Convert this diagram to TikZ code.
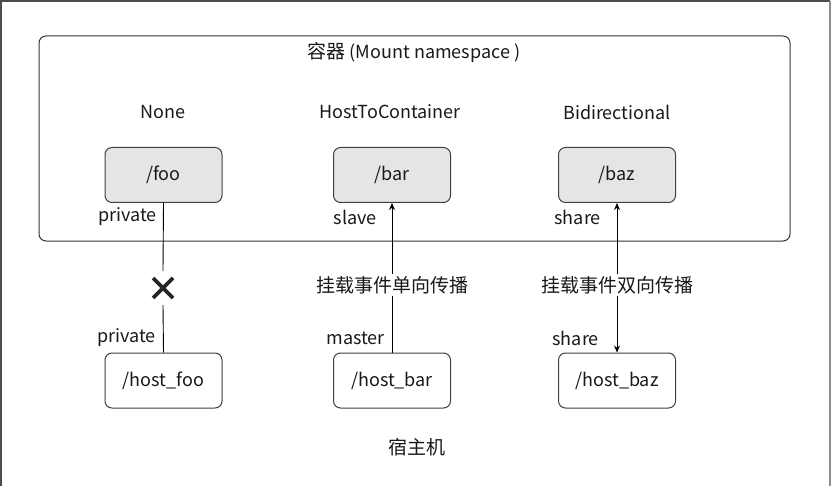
\documentclass[tikz,border=0pt]{standalone}
\usepackage{fontspec}
\setmainfont{Noto Sans CJK SC}
\usetikzlibrary{arrows.meta}
\newcommand{\zh}[1]{{\fontsize{19}{22}\selectfont #1}}
\begin{document}
\begin{tikzpicture}[x=1pt,y=-1pt,
  every node/.style={font=\fontsize{18}{21}\selectfont, inner sep=0pt, text=black!90},
  frameline/.style={line width=1.2pt},
  container/.style={draw=black!80, line width=1pt, rounded corners=7pt},
  cbox/.style={draw=black!75, line width=1pt, fill=black!10, rounded corners=7pt, minimum width=117pt, minimum height=55pt},
  hbox/.style={draw=black!75, line width=1pt, fill=white, rounded corners=7pt, minimum width=117pt, minimum height=55pt},
  conn/.style={line width=0.9pt},
  tip/.style={-{Stealth[length=7pt,width=6pt]}},
  lbl/.style={anchor=east},
  mid/.style={fill=white, inner sep=2pt}
]
\useasboundingbox (0,0) rectangle (834,486);
\fill[white] (0,0) rectangle (834,486);
\draw[frameline, draw=black!70] (1,486) -- (1,1) -- (830,1);
\draw[frameline, draw=black!45] (830,1) -- (830,486);
% container
\draw[container] (39,36) rectangle (790,241);
\node (title) at (414,53) {\zh{容器} (Mount namespace )};
\node (none) at (163,112) {None};
\node (h2c) at (390,112) {HostToContainer};
\node (bidi) at (617,112) {Bidirectional};
% mount points
\node[cbox] (foo) at (163.5,175) {/foo};
\node[cbox] (bar) at (392,175) {/bar};
\node[cbox] (baz) at (617,175) {/baz};
\node[hbox] (hfoo) at (163.5,380.5) {/host\_foo};
\node[hbox] (hbar) at (392,380.5) {/host\_bar};
\node[hbox] (hbaz) at (617,380.5) {/host\_baz};
% labels
\node[lbl] (l1) at (157,217) {private};
\node[lbl] (l2) at (377,217) {slave};
\node[lbl] (l3) at (601,217) {share};
\node[lbl] (l4) at (156,338) {private};
\node[lbl] (l5) at (385,338) {master};
\node[lbl] (l6) at (599,338) {share};
% middle labels
\node[mid] (m1) at (392,285) {\zh{挂载事件单向传播}};
\node[mid] (m2) at (617,285) {\zh{挂载事件双向传播}};
\node[minimum size=34pt] (x) at (163,288) {};
\draw[line width=3.6pt, black!85] ([xshift=-10pt,yshift=-10pt]x.center) -- ([xshift=10pt,yshift=10pt]x.center)
  ([xshift=-10pt,yshift=10pt]x.center) -- ([xshift=10pt,yshift=-10pt]x.center);
% connectors
\draw[conn] (foo.south) -- (x.north);
\draw[conn] (x.south) -- (hfoo.north);
\draw[conn] (m1.south) -- (hbar.north);
\draw[conn, tip] (m1.north) -- (bar.south);
\draw[conn, tip] (m2.north) -- (baz.south);
\draw[conn, tip] (m2.south) -- (hbaz.north);
\node (host) at (417,447) {\zh{宿主机}};
\end{tikzpicture}
\end{document}
